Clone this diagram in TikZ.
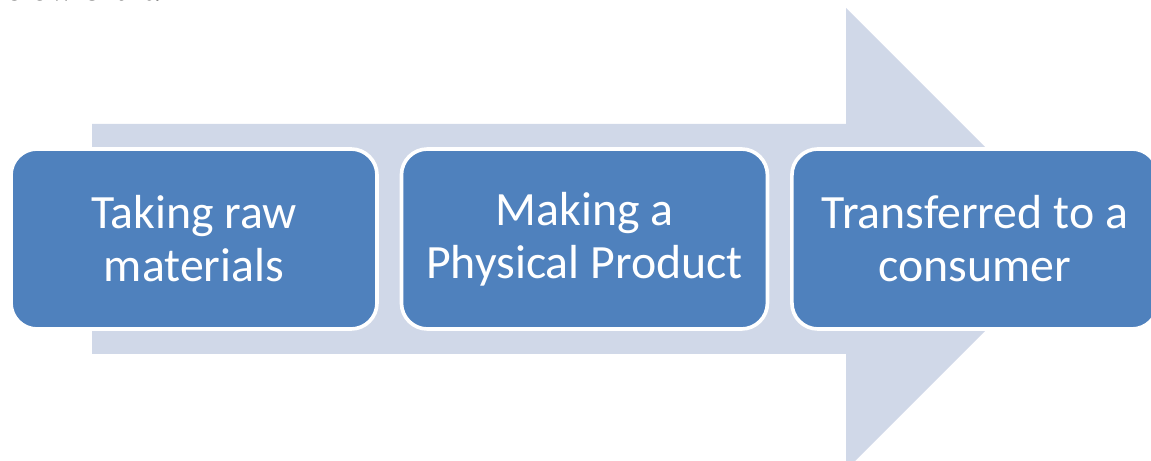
\documentclass[tikz,border=0pt]{standalone}
\usepackage{fontspec}
\setmainfont{Carlito}
\newfontfamily\serifcap{Liberation Serif}
\usetikzlibrary{positioning}
\definecolor{stepblue}{HTML}{4F81BD}
\definecolor{arrowgrey}{HTML}{D0D8E8}
\tikzset{
    stagebox/.style={rectangle, rounded corners=0.65cm, fill=stepblue, draw=white,
        line width=2.6pt, minimum width=9.15cm, minimum height=4.5cm,
        align=center, text=white, font=\fontsize{34}{37.7}\selectfont},
}

\begin{document}
\begin{tikzpicture}
    \useasboundingbox (0,0) rectangle (28.775,11.525);
    \clip (0,0) rectangle (28.775,11.525);

    % Cut-off line of text above
    \node[anchor=base west, inner sep=0pt, font=\serifcap\fontsize{25}{30}\selectfont] (caption) at (-0.3,11.52) {below chart.};

    % Big arrow behind the stages
    \fill[arrowgrey] (2.3,2.675) -- (2.3,8.425) -- (21.15,8.425) -- (21.15,11.325)
        -- (26.925,5.55) -- (21.15,-0.225) -- (21.15,2.675) -- cycle;

    % Stages
    \node[stagebox] (taking) at (4.85,5.55) {Taking raw\\materials};
    \node[stagebox, right=0.52cm of taking] (making) {Making a\\Physical Product};
    \node[stagebox, right=0.52cm of making] (transfer) {Transferred to a\\consumer};
\end{tikzpicture}
\end{document}
